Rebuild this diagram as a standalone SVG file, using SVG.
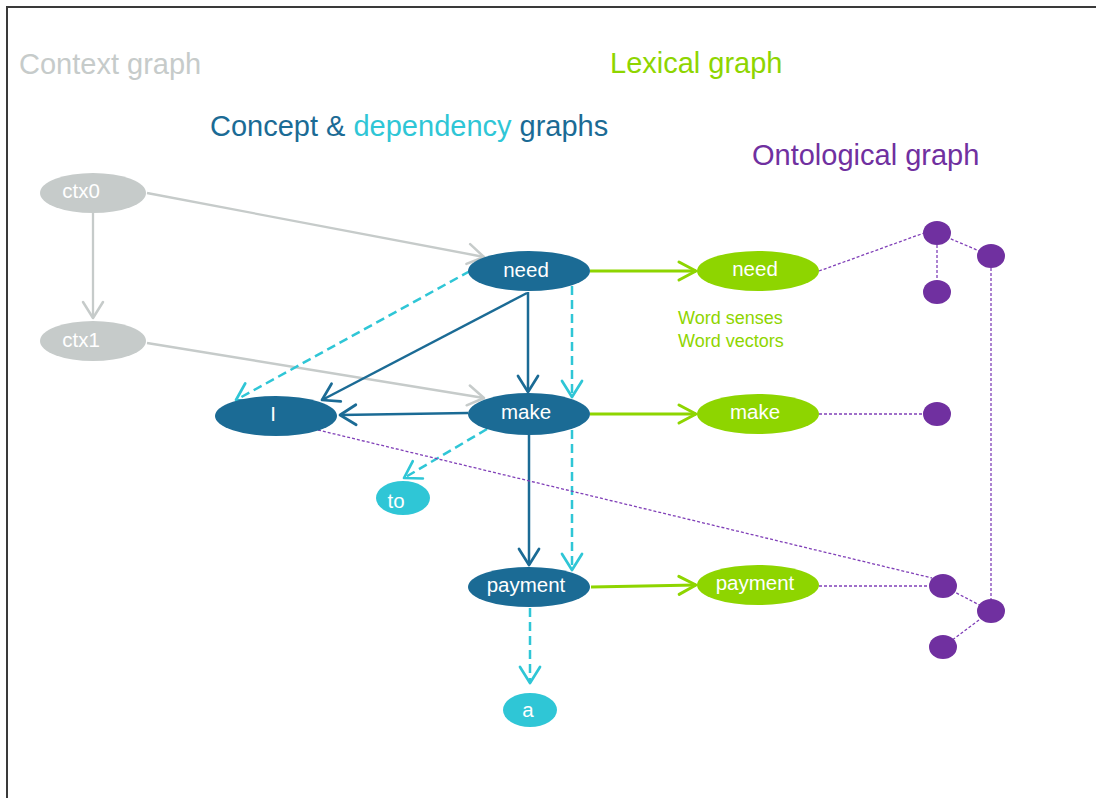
<svg xmlns="http://www.w3.org/2000/svg" width="1096" height="798" viewBox="0 0 1096 798">
  <style>
    text { font-family: "Liberation Sans", Arial, sans-serif; }
    .title { font-size: 29px; }
    .lbl { font-size: 20.5px; fill: #ffffff; text-anchor: middle; }
    .note { font-size: 18px; fill: #8ed500; }
    .gray { fill: #c6cbca; }
    .blue { fill: #1b6b95; }
    .cyan { fill: #2fc6d6; }
    .green { fill: #8ed500; }
    .purple { fill: #7030a0; }
    .e-gray { stroke: #c6cbca; stroke-width: 2.3; fill: none; marker-end: url(#ah-gray); }
    .e-blue { stroke: #1b6b95; stroke-width: 2.5; fill: none; marker-end: url(#ah-blue); }
    .e-dep { stroke: #2fc6d6; stroke-width: 2.5; fill: none; stroke-dasharray: 9 5; marker-end: url(#ah-cyan); }
    .e-lex { stroke: #8ed500; stroke-width: 3; fill: none; marker-end: url(#ah-green); }
    .e-ont { stroke: #8040b8; stroke-width: 1.3; fill: none; stroke-dasharray: 3 2; }
  </style>
  <defs>
    <marker id="ah-gray" markerUnits="userSpaceOnUse" markerWidth="40" markerHeight="40" viewBox="-20 -20 40 40" refX="0" refY="0" orient="auto" overflow="visible">
      <path d="M-16,-10 L0,0 L-16,10" fill="none" stroke="#c6cbca" stroke-width="2.5" stroke-linecap="round" stroke-linejoin="round"/>
    </marker>
    <marker id="ah-blue" markerUnits="userSpaceOnUse" markerWidth="40" markerHeight="40" viewBox="-20 -20 40 40" refX="0" refY="0" orient="auto" overflow="visible">
      <path d="M-16,-10 L0,0 L-16,10" fill="none" stroke="#1b6b95" stroke-width="2.7" stroke-linecap="round" stroke-linejoin="round"/>
    </marker>
    <marker id="ah-cyan" markerUnits="userSpaceOnUse" markerWidth="40" markerHeight="40" viewBox="-20 -20 40 40" refX="0" refY="0" orient="auto" overflow="visible">
      <path d="M-16,-10 L0,0 L-16,10" fill="none" stroke="#2fc6d6" stroke-width="2.7" stroke-linecap="round" stroke-linejoin="round"/>
    </marker>
    <marker id="ah-green" markerUnits="userSpaceOnUse" markerWidth="40" markerHeight="40" viewBox="-20 -20 40 40" refX="0" refY="0" orient="auto" overflow="visible">
      <path d="M-17,-9 L0,0 L-17,9" fill="none" stroke="#8ed500" stroke-width="3" stroke-linecap="round" stroke-linejoin="round"/>
    </marker>
  </defs>

  <rect width="1096" height="798" fill="#ffffff"/>
  <!-- frame -->
  <path d="M7,798 V7 H1096" fill="none" stroke="#3a3a3a" stroke-width="2"/>

  <!-- section titles -->
  <g id="titles">
    <text class="title gray" x="19" y="74">Context graph</text>
    <text class="title green" x="610" y="73">Lexical graph</text>
    <text class="title" x="210" y="136"><tspan class="blue">Concept &amp; </tspan><tspan class="cyan">dependency</tspan><tspan class="blue"> graphs</tspan></text>
    <text class="title purple" x="752" y="165">Ontological graph</text>
    <text class="note" x="678" y="324">Word senses</text>
    <text class="note" x="678" y="347">Word vectors</text>
  </g>

  <!-- connectors -->
  <g id="connectors">
    <!-- context -->
    <line class="e-gray" x1="147" y1="193" x2="484" y2="257"/>
    <line class="e-gray" x1="93" y1="213" x2="93" y2="318"/>
    <line class="e-gray" x1="147" y1="343" x2="484" y2="398"/>
    <!-- concept -->
    <line class="e-blue" x1="528" y1="292" x2="528" y2="392"/>
    <line class="e-blue" x1="527" y1="293" x2="322" y2="400"/>
    <line class="e-blue" x1="468" y1="413" x2="340" y2="415"/>
    <line class="e-blue" x1="529" y1="435" x2="529" y2="565"/>
    <!-- dependency -->
    <line class="e-dep" x1="470" y1="271" x2="236" y2="400"/>
    <line class="e-dep" x1="572" y1="286" x2="572" y2="397"/>
    <line class="e-dep" x1="487" y1="429" x2="404" y2="478"/>
    <line class="e-dep" x1="572" y1="430" x2="572" y2="570"/>
    <line class="e-dep" x1="530" y1="608" x2="530" y2="683"/>
    <!-- lexical -->
    <line class="e-lex" x1="590" y1="271" x2="696" y2="271"/>
    <line class="e-lex" x1="590" y1="414" x2="696" y2="414"/>
    <line class="e-lex" x1="591" y1="587" x2="696" y2="585"/>
    <!-- ontological -->
    <line class="e-ont" x1="819" y1="271" x2="924" y2="233"/>
    <line class="e-ont" x1="937" y1="233" x2="991" y2="256"/>
    <line class="e-ont" x1="937" y1="245" x2="937" y2="280"/>
    <line class="e-ont" x1="991" y1="268" x2="991" y2="599"/>
    <line class="e-ont" x1="819" y1="414" x2="923" y2="414"/>
    <line class="e-ont" x1="819" y1="586" x2="929" y2="586"/>
    <line class="e-ont" x1="318" y1="430" x2="932" y2="578"/>
    <line class="e-ont" x1="943" y1="586" x2="991" y2="611"/>
    <line class="e-ont" x1="991" y1="611" x2="943" y2="647"/>
  </g>

  <!-- context nodes -->
  <g id="ctx0"><ellipse class="gray" cx="93" cy="193" rx="53" ry="20"/><text class="lbl" x="81" y="198">ctx0</text></g>
  <g id="ctx1"><ellipse class="gray" cx="93" cy="341" rx="53" ry="20"/><text class="lbl" x="81" y="347">ctx1</text></g>

  <!-- concept nodes -->
  <g id="need"><ellipse class="blue" cx="529" cy="271" rx="61" ry="20"/><text class="lbl" x="526" y="277">need</text></g>
  <g id="make"><ellipse class="blue" cx="529" cy="414" rx="61" ry="21"/><text class="lbl" x="526" y="419">make</text></g>
  <g id="I"><ellipse class="blue" cx="276" cy="416" rx="61" ry="20"/><text class="lbl" x="273" y="421">I</text></g>
  <g id="payment"><ellipse class="blue" cx="529" cy="587" rx="61" ry="20"/><text class="lbl" x="526" y="592">payment</text></g>

  <!-- dependency-only nodes -->
  <g id="to"><ellipse class="cyan" cx="403" cy="498" rx="27" ry="17"/><text class="lbl" x="396" y="508">to</text></g>
  <g id="a"><ellipse class="cyan" cx="530" cy="710" rx="27" ry="17"/><text class="lbl" x="528" y="717">a</text></g>

  <!-- lexical nodes -->
  <g id="lex-need"><ellipse class="green" cx="758" cy="271" rx="61" ry="20"/><text class="lbl" x="755" y="276">need</text></g>
  <g id="lex-make"><ellipse class="green" cx="758" cy="414" rx="61" ry="20"/><text class="lbl" x="755" y="419">make</text></g>
  <g id="lex-payment"><ellipse class="green" cx="758" cy="585" rx="61" ry="20"/><text class="lbl" x="755" y="590">payment</text></g>

  <!-- ontological nodes -->
  <g id="ont-1"><ellipse class="purple" cx="937" cy="233" rx="14" ry="12"/></g>
  <g id="ont-2"><ellipse class="purple" cx="991" cy="256" rx="14" ry="12"/></g>
  <g id="ont-3"><ellipse class="purple" cx="937" cy="292" rx="14" ry="12"/></g>
  <g id="ont-4"><ellipse class="purple" cx="937" cy="414" rx="14" ry="12"/></g>
  <g id="ont-5"><ellipse class="purple" cx="943" cy="586" rx="14" ry="12"/></g>
  <g id="ont-6"><ellipse class="purple" cx="991" cy="611" rx="14" ry="12"/></g>
  <g id="ont-7"><ellipse class="purple" cx="943" cy="647" rx="14" ry="12"/></g>
</svg>
